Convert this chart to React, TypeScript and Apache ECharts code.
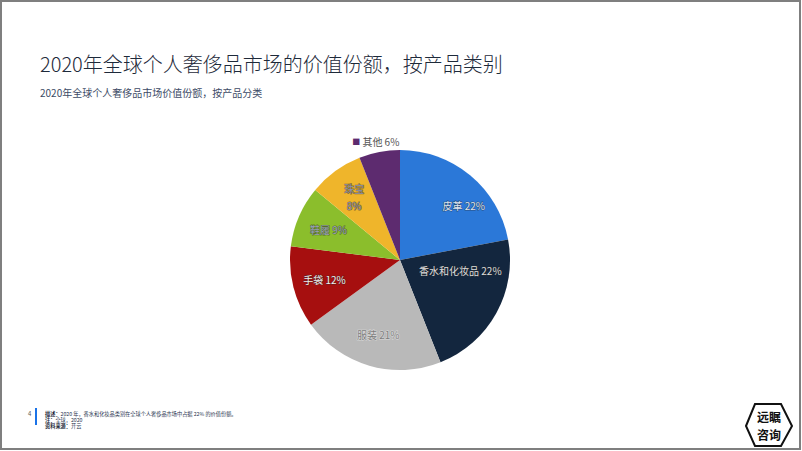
import React, { useEffect, useRef } from "react";
import * as echarts from "echarts";

const categories = ["皮革", "香水和化妆品", "服装", "手袋", "鞋履", "珠宝", "其他"];
const shares = [22, 22, 21, 12, 9, 8, 6];
const colors = ["#2b78d8", "#13263e", "#b9b9b9", "#a60f0f", "#8bbe2c", "#efb52b", "#5d2b6f"];
const labelColors = ["#dfe6f0", "#dcdcdc", "#7d7d7d", "#f0f0f0", "#9aa1ba", "#8c93ad", "#555555"];

const titleText = "2020年全球个人奢侈品市场的价值份额，按产品类别";
const subtitleText = "2020年全球个人奢侈品市场价值份额，按产品分类";
const noteLabels = ["描述：", "注：", "资料来源："];
const noteLines = [
  "2020 年，香水和化妆品类别在全球个人奢侈品市场中占据 22% 的价值份额。",
  "全球，2020",
  "开云",
];
const logoText = "远瞩\n咨询";

const FONT = "'Noto Sans CJK SC', 'Noto Sans', sans-serif";

export default function App() {
  const ref = useRef<HTMLDivElement>(null);
  useEffect(() => {
    document.body.style.margin = "0";
    const chart = echarts.init(ref.current!, null, { renderer: "svg" });
    const pieData = categories.map((name, i) => {
      const item: any = {
        name,
        value: shares[i],
        itemStyle: { color: colors[i] },
      };
      if (name === "其他") {
        item.label = {
          show: true,
          position: "outside",
          color: "#555555",
          fontSize: 10,
          fontFamily: FONT,
          formatter: "{m|■} {b} {c}%",
          offset: [25, -10],
          rich: { m: { color: colors[6], fontSize: 8, fontFamily: FONT } },
        };
        item.labelLine = { show: false, length: 0, length2: 0 };
      }
      return item;
    });
    const labelOffsets: Record<string, number[]> = {
      皮革: [14, 6],
      香水和化妆品: [-8, -27],
    };
    const labelData = categories.map((name, i) => {
      const item: any = {
        name,
        value: shares[i],
        label: {
          show: name !== "其他",
          color: labelColors[i],
          textBorderColor: i === 2 ? "rgba(255,255,255,0.5)" : "rgba(40,40,40,0.55)",
          textBorderWidth: 1,
        },
      };
      if (labelOffsets[name]) item.label.offset = labelOffsets[name];
      if (name === "珠宝") {
        item.label.formatter = "{b}\n{c}%";
        item.label.lineHeight = 17;
      }
      return item;
    });
    const noteGraphics: any[] = noteLabels.map((lab, i) => ({
      type: "text",
      x: 45,
      y: 410 + i * 6.3,
      style: {
        text: "{b|" + lab + "}" + noteLines[i],
        fontSize: 5.2,
        lineHeight: 6,
        fill: "#2a3550",
        fontFamily: FONT,
        rich: { b: { fontWeight: "bold", fontSize: 5.2, lineHeight: 6, fill: "#1e2a3a", fontFamily: FONT } },
      },
    }));
    chart.setOption({
      animation: false,
      textStyle: { fontFamily: FONT },
      series: [
        {
          type: "pie",
          center: [400, 260],
          radius: [0, 110],
          startAngle: 90,
          clockwise: true,
          data: pieData,
          label: { show: false },
          labelLine: { show: false },
          emphasis: { disabled: true },
        },
        {
          type: "pie",
          center: [400, 260],
          radius: [0, 150],
          startAngle: 90,
          clockwise: true,
          silent: true,
          data: labelData,
          itemStyle: { color: "rgba(0,0,0,0)" },
          label: {
            show: true,
            position: "inside",
            formatter: "{b} {c}%",
            fontSize: 10,
            fontFamily: FONT,
          },
          labelLine: { show: false },
          emphasis: { disabled: true },
        },
      ],
      graphic: [
        {
          type: "rect",
          shape: { x: 1, y: 1, width: 799, height: 448 },
          style: { fill: "none", stroke: "#7f7f7f", lineWidth: 2 },
        },
        {
          type: "text",
          x: 40,
          y: 53,
          style: { text: titleText, fontSize: 20, fontWeight: 300, fill: "#1e2a3a", fontFamily: FONT },
        },
        {
          type: "text",
          x: 40,
          y: 87,
          style: { text: subtitleText, fontSize: 10, fill: "#3d4b66", fontFamily: FONT },
        },
        {
          type: "text",
          x: 28,
          y: 410,
          style: { text: "4", fontSize: 6, fill: "#555", fontFamily: FONT },
        },
        {
          type: "rect",
          shape: { x: 35, y: 408, width: 2, height: 17 },
          style: { fill: "#1a73e8" },
        },
        ...noteGraphics,
        {
          type: "polygon",
          shape: {
            points: [
              [746, 426],
              [755, 404],
              [781, 404],
              [792, 426],
              [781, 446],
              [755, 446],
            ],
          },
          style: { fill: "#fff", stroke: "#111", lineWidth: 2 },
        },
        {
          type: "text",
          x: 769,
          y: 425.5,
          style: {
            text: logoText,
            fontSize: 12,
            lineHeight: 18,
            fontWeight: "bold",
            fill: "#111",
            align: "center",
            verticalAlign: "middle",
            fontFamily: FONT,
          },
        },
      ],
    });
    return () => chart.dispose();
  }, []);
  return (
    <div
      ref={ref}
      style={{ position: "fixed", left: 0, top: 0, width: 802, height: 451, background: "#fff" }}
    />
  );
}
